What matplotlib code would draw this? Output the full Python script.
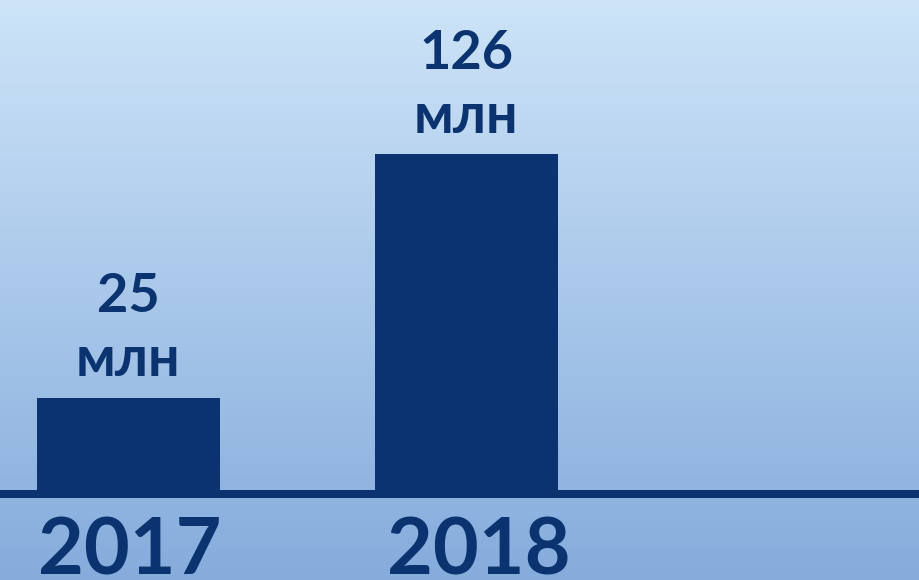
import numpy as np
import matplotlib
matplotlib.use("Agg")
import matplotlib.pyplot as plt
from matplotlib.colors import LinearSegmentedColormap

years = ["2017", "2018"]
values = [25, 126]
value_labels = ["25", "126"]
unit = "млн"

navy = "#0a3370"
top_col = "#cde4f8"
bot_col = "#86acdc"

# small horizontal nudges of the year labels (points), as in the reference
year_dx = [0.7, 9.0]

plt.rcParams['font.family'] = ['Lato', 'DejaVu Sans']

fig = plt.figure(figsize=(9.19, 5.8), dpi=100)

# gradient background
bg = fig.add_axes([0, 0, 1, 1], zorder=-1)
cmap = LinearSegmentedColormap.from_list("bg", [bot_col, top_col])
grad = np.linspace(0, 1, 256).reshape(-1, 1)
bg.imshow(grad, aspect="auto", cmap=cmap, origin="lower", extent=[0, 1, 0, 1])
bg.set_axis_off()

base = -15
ax = fig.add_axes([0, 86 / 580, 1, 494 / 580])
ax.patch.set_alpha(0)
x = np.arange(len(years))
heights = [v - base for v in values]
ax.bar(x, heights, bottom=base, width=0.541, color=navy, zorder=2)
ax.set_xlim(-0.380, 2.339)
ax.set_ylim(base, 190)

for s in ["top", "left", "right"]:
    ax.spines[s].set_visible(False)
ax.spines["bottom"].set_color(navy)
ax.spines["bottom"].set_linewidth(5.76)
ax.spines["bottom"].set_zorder(3)
ax.set_yticks([])
ax.set_xticks([])

for xi, yr, dx in zip(x, years, year_dx):
    ax.annotate(yr, xy=(xi, 0), xycoords=("data", "axes fraction"),
                xytext=(dx, -57.8), textcoords="offset points",
                ha="center", va="baseline", fontsize=57, fontweight="bold",
                color=navy, annotation_clip=False)

for xi, v, lbl in zip(x, values, value_labels):
    ax.annotate(unit, xy=(xi, v), xytext=(0, 15.5), textcoords="offset points",
                ha="center", va="baseline", fontsize=40, fontweight="bold", color=navy)
    ax.annotate(lbl, xy=(xi, v), xytext=(0, 61.5), textcoords="offset points",
                ha="center", va="baseline", fontsize=39, fontweight="bold", color=navy)

fig.savefig("out.png", dpi=100)
